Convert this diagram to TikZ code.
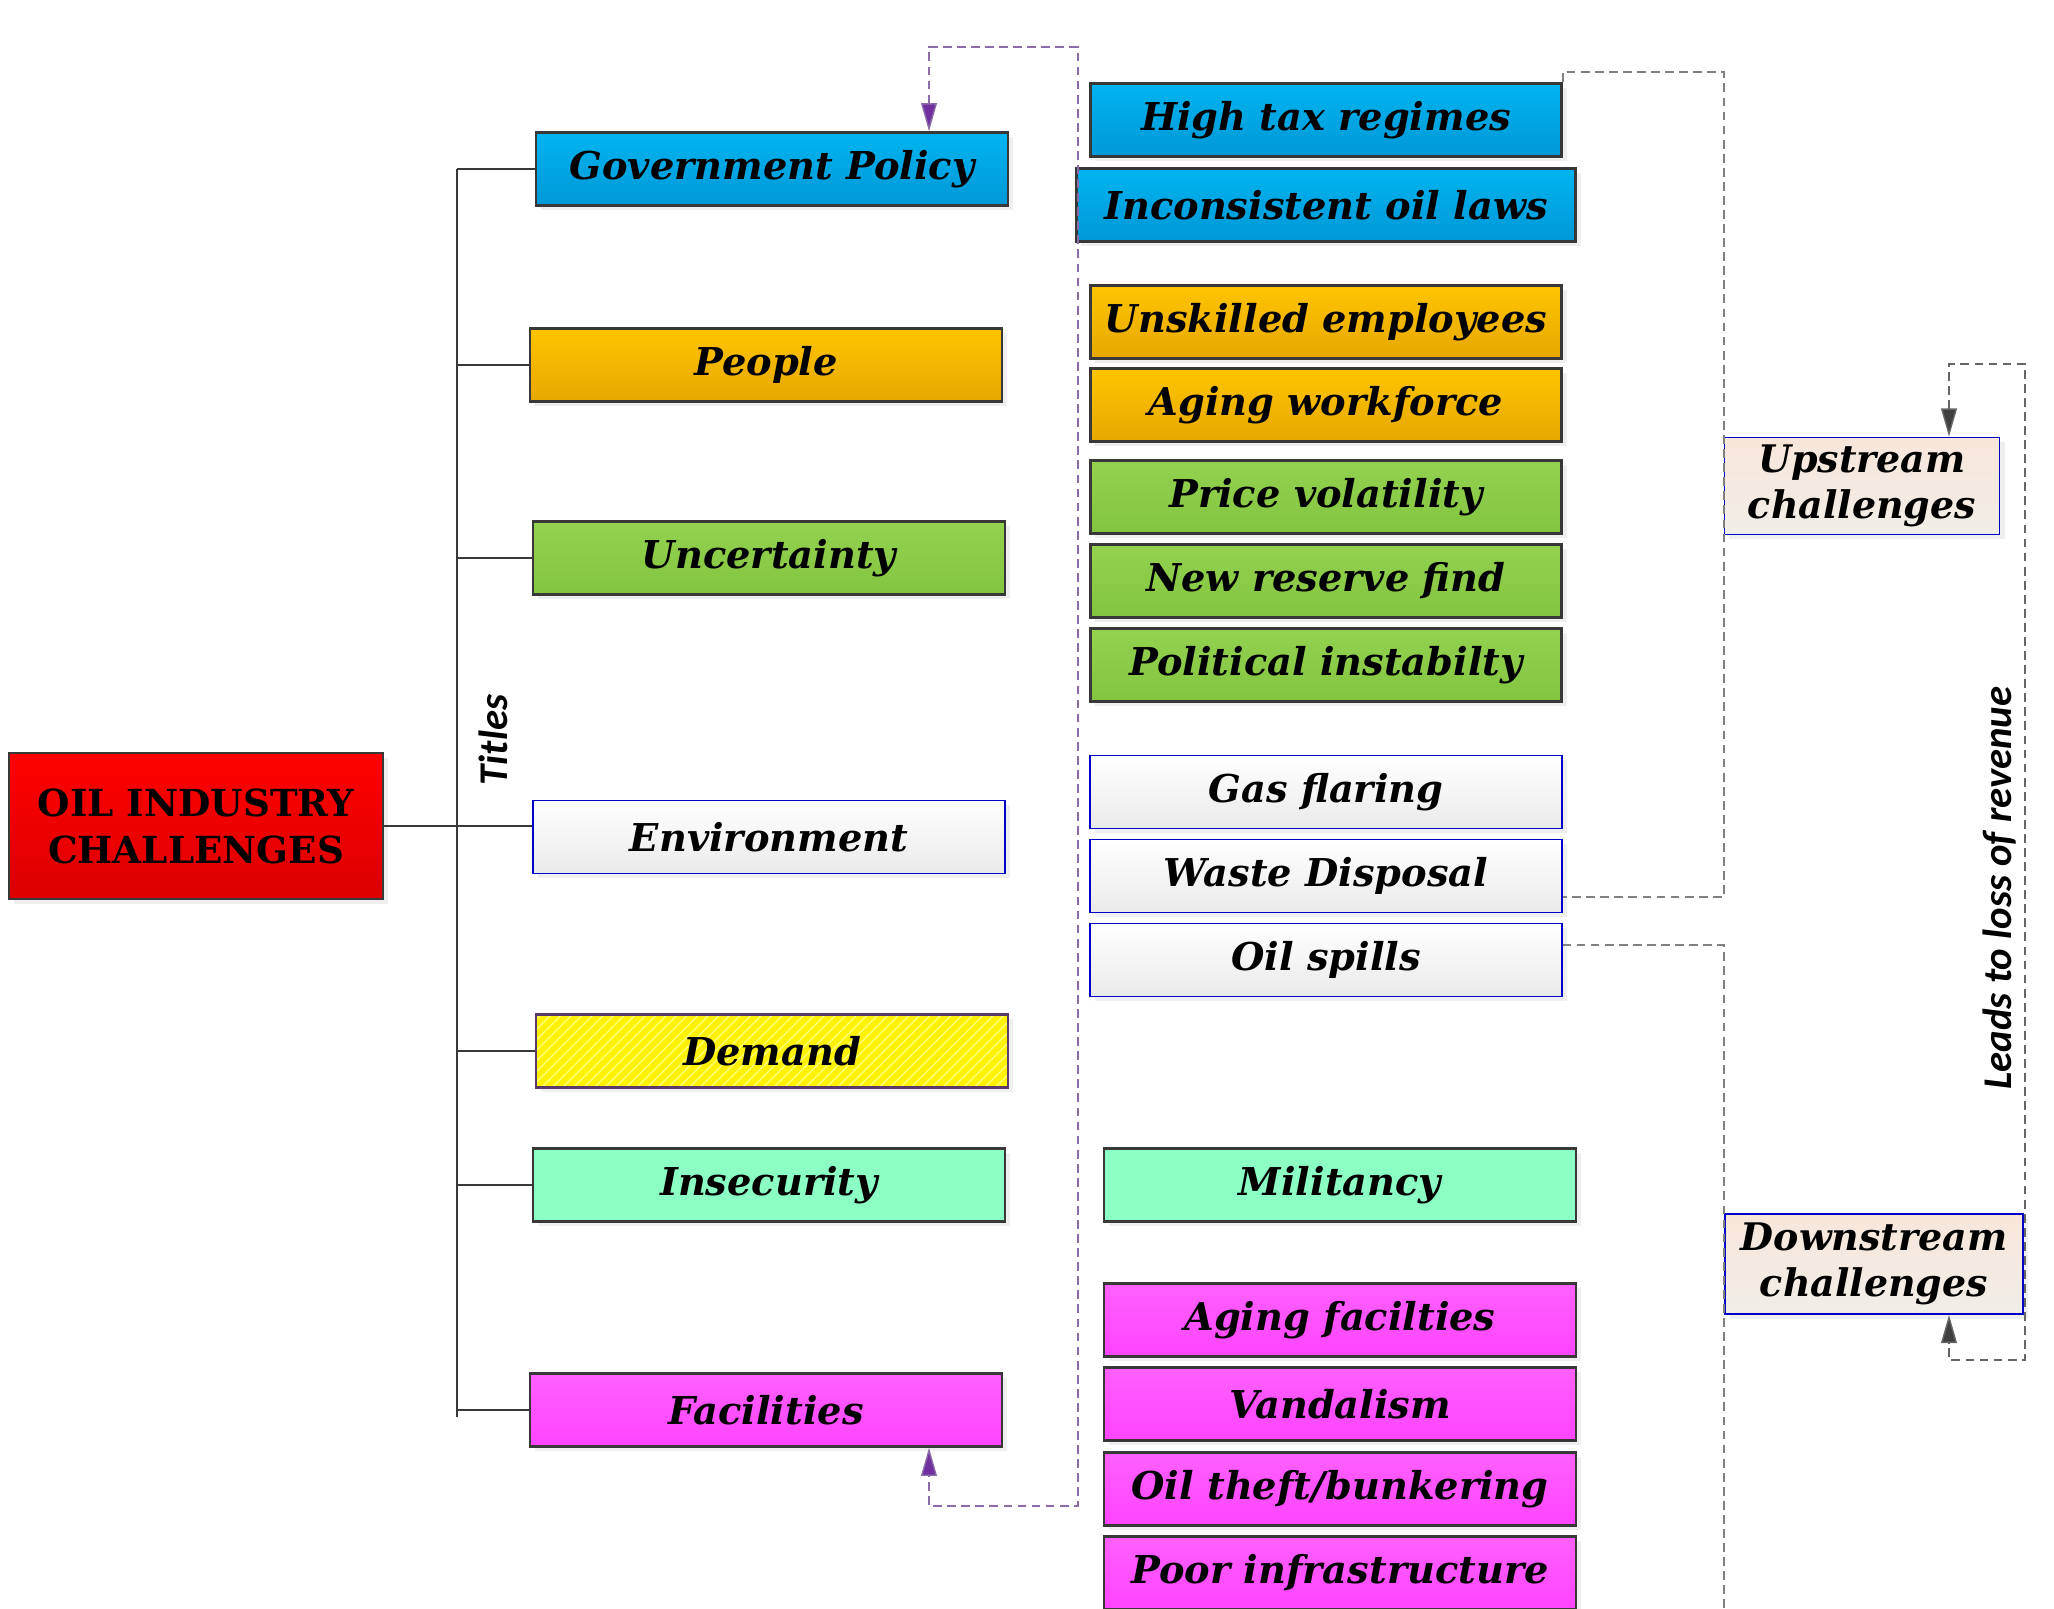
\documentclass[tikz,border=0pt]{standalone}
\usepackage{fontspec}
\setmainfont{DejaVu Serif}
\newfontfamily\labelfont{Carlito}
\usetikzlibrary{arrows.meta,shadows,patterns}
\definecolor{govtop}{HTML}{00B4F0}
\definecolor{govbot}{HTML}{0098D6}
\definecolor{ppltop}{HTML}{FFC400}
\definecolor{pplbot}{HTML}{E6A800}
\definecolor{unctop}{HTML}{94D250}
\definecolor{uncbot}{HTML}{82C440}
\definecolor{envbot}{HTML}{EAEAEA}
\definecolor{envline}{HTML}{0000C8}
\definecolor{insfill}{HTML}{8CFFC4}
\definecolor{factop}{HTML}{FF60FF}
\definecolor{facbot}{HTML}{FF44FF}
\definecolor{redtop}{HTML}{FF0000}
\definecolor{redbot}{HTML}{DC0000}
\definecolor{streamtop}{HTML}{F8E6DA}
\definecolor{streambot}{HTML}{F0EEE8}
\definecolor{boxline}{HTML}{383838}
\definecolor{demline}{HTML}{5A3A6A}
\definecolor{loopline}{HTML}{8C6CA8}
\definecolor{looptip}{HTML}{7030A0}
\tikzset{
	cbox/.style={draw=boxline, line width=0.7pt, minimum width=4.72cm, minimum height=0.73cm, inner sep=0pt,
		font=\fontsize{10.9}{12}\selectfont\bfseries\itshape,
		drop shadow={shadow xshift=1.4pt, shadow yshift=-1.4pt, fill=black!12}},
	govbox/.style={cbox, top color=govtop, bottom color=govbot},
	pplbox/.style={cbox, top color=ppltop, bottom color=pplbot},
	uncbox/.style={cbox, top color=unctop, bottom color=uncbot},
	envbox/.style={cbox, draw=envline, line width=0.5pt, top color=white, bottom color=envbot},
	dembox/.style={cbox, draw=demline, preaction={fill=yellow}, pattern=north east lines, pattern color=yellow!55!white},
	insbox/.style={cbox, fill=insfill},
	facbox/.style={cbox, top color=factop, bottom color=facbot},
	streambox/.style={cbox, draw=envline, line width=0.5pt, top color=streamtop, bottom color=streambot, drop shadow={opacity=0},
		align=center, font=\fontsize{10.8}{13}\selectfont\bfseries\itshape},
	tree/.style={draw=boxline, line width=0.6pt},
	bracket/.style={draw=black!50, line width=0.4pt, dash pattern=on 2.5pt off 1.5pt},
	purpleloop/.style={draw=loopline, line width=0.4pt, dash pattern=on 2.5pt off 1.5pt, {Triangle[length=8pt,width=4.5pt,fill=looptip]}-{Triangle[length=8pt,width=4.5pt,fill=looptip]}},
	greyloop/.style={bracket, draw=black!60, {Triangle[length=8pt,width=4.5pt,fill=black!75]}-{Triangle[length=8pt,width=4.5pt,fill=black!75]}},
	sidelabel/.style={rotate=90, font=\labelfont\fontsize{11.6}{13}\selectfont\bfseries\itshape}
}
\begin{document}
\begin{tikzpicture}[x=0.01cm,y=-0.01cm]
	\useasboundingbox (0,0) rectangle (2054,1608);
	%% main box
	\node[cbox, top color=redtop, bottom color=redbot, minimum width=3.74cm, minimum height=1.46cm, align=center,
		font=\fontsize{10.6}{13.4}\selectfont\bfseries] (oil) at (196,826) {OIL INDUSTRY\\CHALLENGES};
	%% titles
	\node[govbox] (gov) at (772,169) {Government Policy};
	\node[pplbox] (ppl) at (766,365) {People};
	\node[uncbox] (unc) at (769,558) {Uncertainty};
	\node[envbox] (env) at (769,837) {Environment};
	\node[dembox] (dem) at (772,1051) {Demand};
	\node[insbox] (ins) at (769,1185) {Insecurity};
	\node[facbox] (fac) at (766,1410) {Facilities};
	\node[sidelabel] (titles) at (493,740) {Titles};
	%% challenges
	\node[govbox, minimum width=4.71cm] (tax) at (1326,120) {High tax regimes};
	\node[govbox, minimum width=4.99cm] (laws) at (1326,205) {Inconsistent oil laws};
	\node[pplbox, minimum width=4.71cm] (skill) at (1326,322) {Unskilled employees};
	\node[pplbox, minimum width=4.71cm] (work) at (1326,405) {Aging workforce};
	\node[uncbox, minimum width=4.71cm] (price) at (1326,497) {Price volatility};
	\node[uncbox, minimum width=4.71cm] (find) at (1326,581) {New reserve find};
	\node[uncbox, minimum width=4.71cm] (polit) at (1326,665) {Political instabilty};
	\node[envbox, minimum width=4.71cm] (gas) at (1326,792) {Gas flaring};
	\node[envbox, minimum width=4.71cm] (waste) at (1326,876) {Waste Disposal};
	\node[envbox, minimum width=4.71cm] (spill) at (1326,960) {Oil spills};
	\node[insbox] (milit) at (1340,1185) {Militancy};
	\node[facbox] (agefac) at (1340,1320) {Aging facilties};
	\node[facbox] (vand) at (1340,1404) {Vandalism};
	\node[facbox] (theft) at (1340,1489) {Oil theft/bunkering};
	\node[facbox] (infra) at (1340,1573) {Poor infrastructure};
	%% streams
	\node[streambox, minimum width=2.75cm, minimum height=0.97cm] (up) at (1862,486) {Upstream\\challenges};
	\node[streambox, minimum width=2.98cm, minimum height=1.00cm] (down) at (1874,1264) {Downstream\\challenges};
	\node[sidelabel] (revenue) at (2000,888) {Leads to loss of revenue};
	%%% tree
	\coordinate (spinetop) at (457,169);
	\coordinate (spinebot) at (457,1417);
	\draw[tree] (spinetop) -- (spinebot);
	\draw[tree] (oil.east) -- (oil.east -| env.west);
	\foreach \t in {gov,ppl,unc,dem,ins,fac}
		\draw[tree] (\t.west -| spinetop) -- (\t.west);
	%%% loops and brackets
	\coordinate (ptop) at (929,47);
	\coordinate (ptopr) at (1078,47);
	\coordinate (pbotr) at (1078,1506);
	\coordinate (pbot) at (929,1506);
	\draw[purpleloop] (gov.north -| ptop) -- (ptop) -- (ptopr) -- (pbotr) -- (pbot) -- (fac.south -| pbot);
	\coordinate (uptop) at (1724,72);
	\coordinate (upbot) at (1724,897);
	\draw[bracket] (tax.north east) |- (uptop) -- (upbot) -- (upbot -| waste.east);
	\coordinate (downtop) at (1724,945);
	\coordinate (downbot) at (1724,1620);
	\draw[bracket] (downtop -| spill.east) -- (downtop) -- (downbot);
	\coordinate (rtop) at (1949,364);
	\coordinate (rtopr) at (2025,364);
	\coordinate (rbotr) at (2025,1360);
	\coordinate (rbot) at (1949,1360);
	\draw[greyloop] (up.north -| rtop) -- (rtop) -- (rtopr) -- (rbotr) -- (rbot) -- (down.south -| rbot);
\end{tikzpicture}
\end{document}
